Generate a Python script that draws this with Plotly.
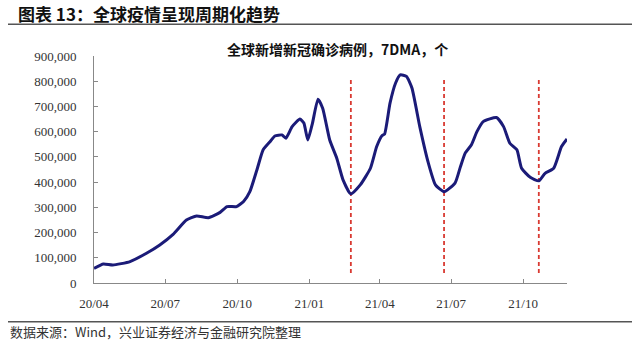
import plotly.graph_objects as go

# Global new confirmed COVID-19 cases, 7-day moving average
dates = [
    "2020-04-01", "2020-04-13", "2020-04-25", "2020-05-17", "2020-06-07",
    "2020-06-24", "2020-07-11", "2020-07-28", "2020-08-10", "2020-08-25",
    "2020-09-09", "2020-09-18", "2020-09-30", "2020-10-09", "2020-10-17",
    "2020-10-26", "2020-11-03", "2020-11-12", "2020-11-18", "2020-11-27",
    "2020-12-02", "2020-12-10", "2020-12-20", "2020-12-25", "2020-12-30",
    "2021-01-05", "2021-01-12", "2021-01-18", "2021-01-27", "2021-02-05",
    "2021-02-13", "2021-02-23", "2021-03-07", "2021-03-20", "2021-03-28",
    "2021-04-04", "2021-04-07", "2021-04-14", "2021-04-21", "2021-04-27",
    "2021-05-05", "2021-05-12", "2021-05-22", "2021-06-02", "2021-06-11",
    "2021-06-22", "2021-07-06", "2021-07-13", "2021-07-19", "2021-07-27",
    "2021-08-03", "2021-08-11", "2021-08-28", "2021-09-06", "2021-09-14",
    "2021-09-23", "2021-09-29", "2021-10-10", "2021-10-21", "2021-10-29",
    "2021-11-09", "2021-11-19", "2021-11-26",
]
cases = [
    58000, 75000, 71000, 85000, 118000,
    151000, 193000, 250000, 266000, 259000,
    280000, 303000, 303000, 323000, 362000,
    448000, 528000, 561000, 583000, 587000,
    574000, 620000, 650000, 634000, 567000,
    634000, 729000, 693000, 567000, 495000,
    409000, 353000, 389000, 455000, 541000,
    585000, 590000, 713000, 792000, 825000,
    819000, 773000, 620000, 475000, 389000,
    362000, 396000, 462000, 515000, 548000,
    600000, 640000, 656000, 620000, 554000,
    528000, 455000, 419000, 405000, 435000,
    455000, 541000, 571000,
]

# Troughs marking each wave
trough_dates = ["2021-02-23", "2021-06-22", "2021-10-21"]
trough_span = [40000, 805000]

y_ticks = list(range(0, 900001, 100000))
x_ticks = ["2020-04-01", "2020-07-01", "2020-10-01", "2021-01-01",
           "2021-04-01", "2021-07-01", "2021-10-01"]
x_tick_text = ["20/04", "20/07", "20/10", "21/01", "21/04", "21/07", "21/10"]

title_text = "图表 13：全球疫情呈现周期化趋势"
subtitle_text = "全球新增新冠确诊病例，7DMA，个"
source_text = "数据来源：Wind，兴业证券经济与金融研究院整理"

W, H = 640, 340
L, R, T, B = 94, 73, 56, 57
PW, PH = W - L - R, H - T - B


def px_x(x):
    return (x - L) / PW


def px_y(y):
    return (H - B - y) / PH


fig = go.Figure()

for d in trough_dates:
    fig.add_trace(go.Scatter(
        x=[d, d], y=trough_span, mode="lines",
        line=dict(color="#d93a32", width=1.8, dash="4px,3px"),
        hoverinfo="skip", showlegend=False,
    ))

fig.add_trace(go.Scatter(
    x=dates, y=cases, mode="lines",
    line=dict(color="#1b1b78", width=3, shape="spline", smoothing=0.5),
    showlegend=False,
))

serif = "Liberation Serif, Times New Roman, serif"
cjk = "Noto Sans CJK SC, sans-serif"

fig.update_layout(
    width=W, height=H,
    margin=dict(l=L, r=R, t=T, b=B),
    paper_bgcolor="white", plot_bgcolor="white",
    xaxis=dict(
        type="date",
        range=["2020-04-01", "2021-11-26"],
        tickvals=x_ticks, ticktext=x_tick_text,
        ticks="inside", ticklen=4, tickcolor="#888",
        showline=True, linecolor="#888", linewidth=1,
        showgrid=False, zeroline=False,
        tickfont=dict(family=serif, size=13, color="#333"),
        ticklabelstandoff=8,
    ),
    yaxis=dict(
        range=[0, 900000],
        tickvals=y_ticks,
        ticktext=[f"{v:,}" for v in y_ticks],
        ticks="inside", ticklen=4, tickcolor="#888",
        showline=True, linecolor="#888", linewidth=1,
        showgrid=False, zeroline=False,
        tickfont=dict(family=serif, size=13, color="#333"),
        ticklabelstandoff=14,
    ),
    shapes=[
        dict(type="line", xref="paper", yref="paper",
             x0=px_x(8), x1=px_x(632), y0=px_y(24.3), y1=px_y(24.3),
             line=dict(color="#555", width=1.5)),
        dict(type="line", xref="paper", yref="paper",
             x0=px_x(8), x1=px_x(632), y0=px_y(321.7), y1=px_y(321.7),
             line=dict(color="#555", width=1.5)),
    ],
    annotations=[
        dict(text=f"<b>{title_text}</b>", xref="paper", yref="paper",
             x=px_x(16), y=px_y(14), xanchor="left", yanchor="middle",
             showarrow=False, font=dict(family=cjk, size=17, color="#111")),
        dict(text=f"<b>{subtitle_text}</b>", xref="paper", yref="paper",
             x=px_x(337), y=px_y(49), xanchor="center", yanchor="middle",
             showarrow=False, font=dict(family=cjk, size=14, color="#111")),
        dict(text=source_text, xref="paper", yref="paper",
             x=px_x(8), y=px_y(331), xanchor="left", yanchor="middle",
             showarrow=False, font=dict(family=cjk, size=13, color="#333")),
    ],
)

fig.write_html("out.html")
